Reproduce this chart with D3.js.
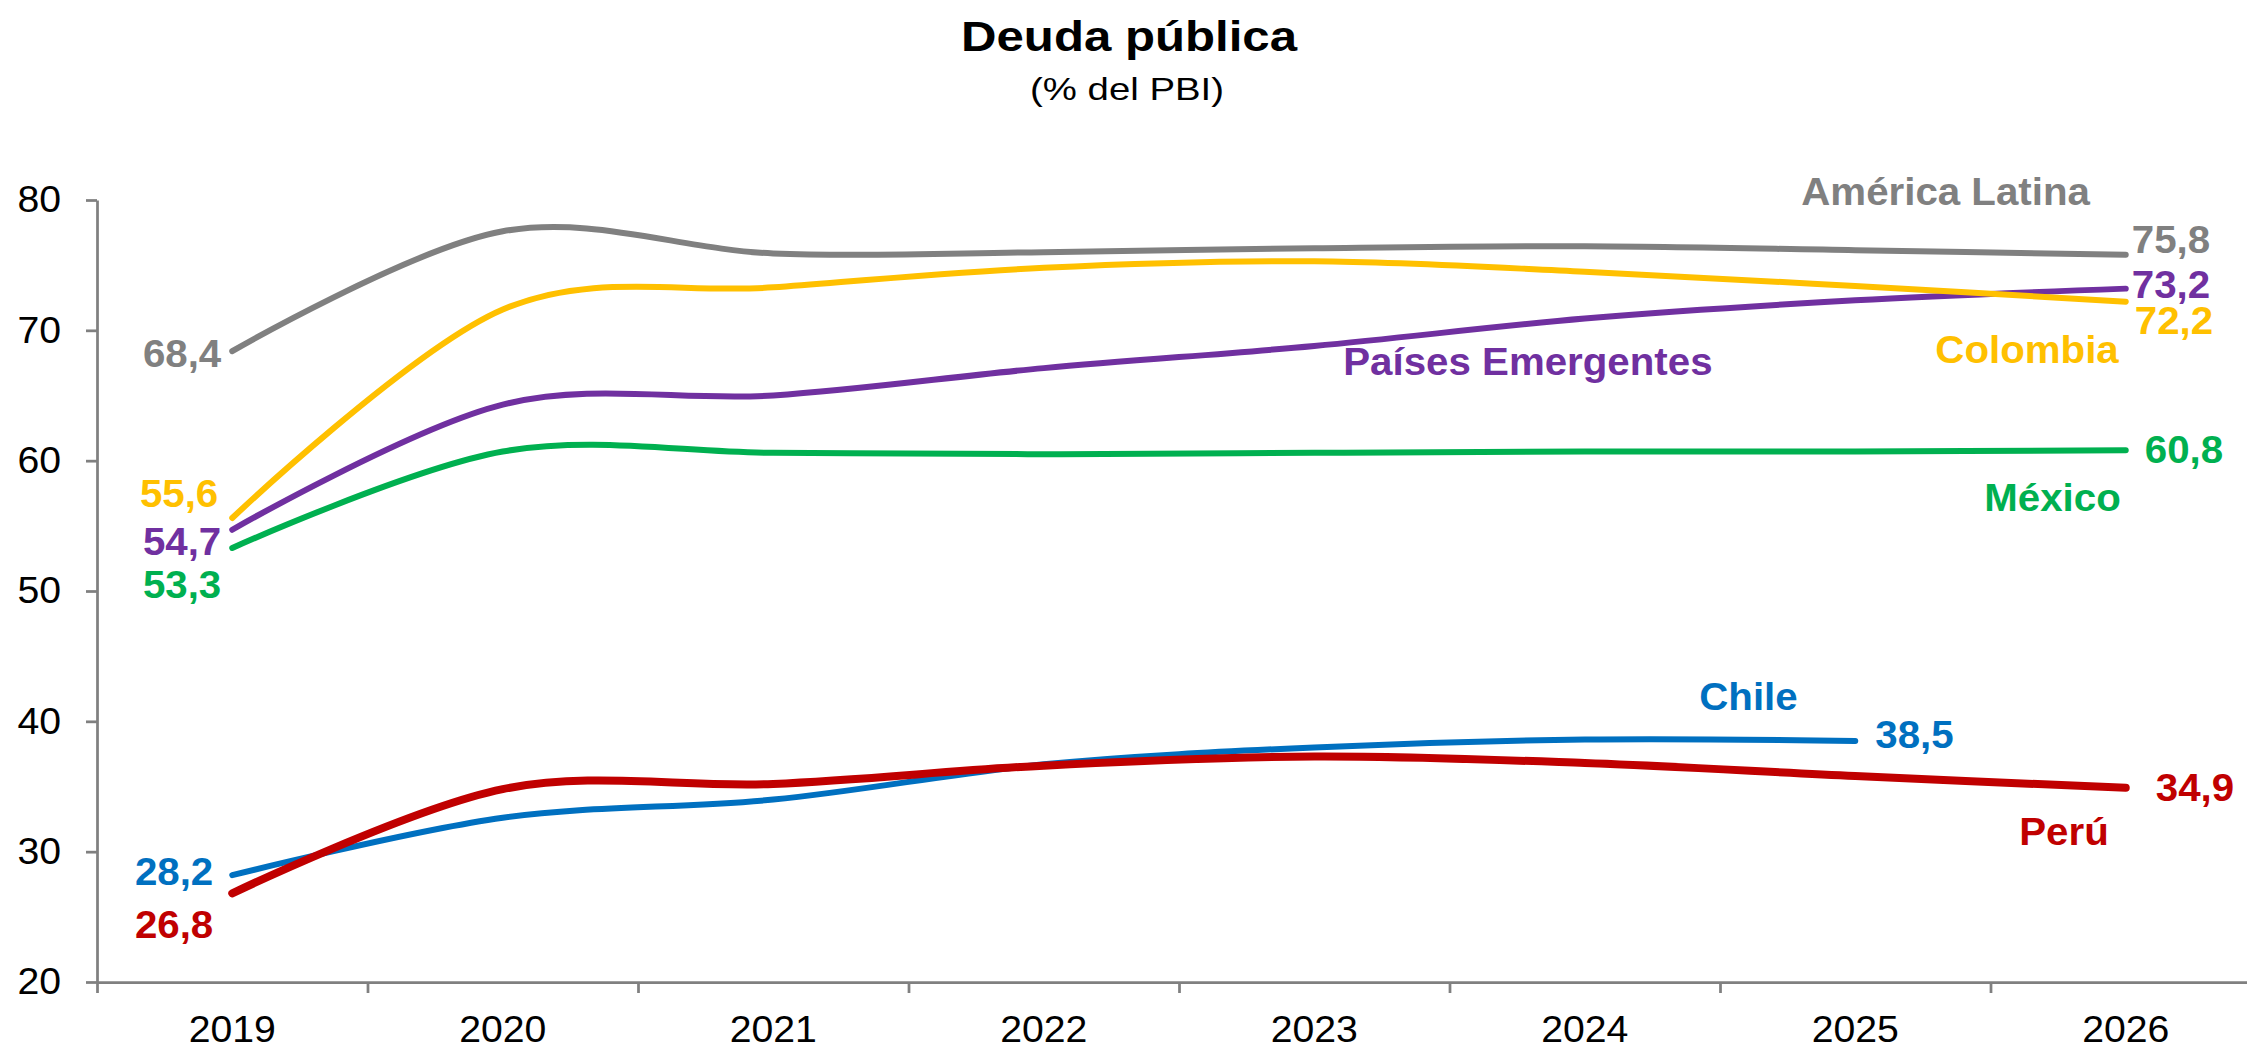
<!DOCTYPE html>
<html lang="es">
<head>
<meta charset="utf-8">
<title>Deuda pública</title>
<script src="https://cdn.jsdelivr.net/npm/d3@7"></script>
<style>
  html, body { margin: 0; padding: 0; background: #ffffff; }
  svg { display: block; font-family: "Liberation Sans", Arial, Helvetica, sans-serif; }
</style>
</head>
<body>
<svg id="chart" width="2247" height="1049"></svg>
<script>
// Años del eje horizontal
const years = ["2019", "2020", "2021", "2022", "2023", "2024", "2025", "2026"];

// Deuda pública, % del PBI
const americaLatina = [68.4, 77.6, 75.9, 76.0, 76.3, 76.45, 76.15, 75.8];
const colombia      = [55.6, 71.6, 73.3, 74.8, 75.3, 74.5, 73.4, 72.2];
const emergentes    = [54.7, 64.3, 65.0, 67.1, 68.8, 70.9, 72.3, 73.2];
const mexico        = [53.3, 60.7, 60.6, 60.5, 60.6, 60.7, 60.7, 60.8];
const chile         = [28.2, 32.6, 34.0, 36.7, 38.0, 38.6, 38.5, null];
const peru          = [26.8, 34.8, 35.2, 36.6, 37.3, 36.8, 35.8, 34.9];

// Marcas del eje vertical
const yTicks = [20, 30, 40, 50, 60, 70, 80];

// Series en orden de dibujo (la última queda encima)
const series = [
  { name: "Países Emergentes", values: emergentes,    color: "#7030A0", width: 6 },
  { name: "Colombia",          values: colombia,      color: "#FFC000", width: 6 },
  { name: "América Latina",    values: americaLatina, color: "#808080", width: 6 },
  { name: "México",            values: mexico,        color: "#00B050", width: 6 },
  { name: "Chile",             values: chile,         color: "#0070C0", width: 6 },
  { name: "Perú",              values: peru,          color: "#C00000", width: 8 }
];

// Desplazamientos (px) de las etiquetas de valor inicial y final
const firstLabelShift = {
  "América Latina": [-11, 16], "Colombia": [-14, -11], "Países Emergentes": [-11, 25],
  "México": [-11, 50], "Chile": [-19, 10], "Perú": [-19, 45]
};
const lastLabelShift = {
  "América Latina": [6, -2], "Colombia": [9, 32], "Países Emergentes": [6, 9],
  "México": [19, 13], "Chile": [20, 7], "Perú": [30, 13]
};
// Nombre de cada serie: año de referencia, anclaje y desplazamiento (px)
const nameLabel = {
  "América Latina":    { year: "2025", anchor: "start", dx: -54,  dy: -45 },
  "Colombia":          { year: "2026", anchor: "end",   dx: -7,   dy: 61 },
  "Países Emergentes": { year: "2023", anchor: "start", dx: 29,   dy: 29 },
  "México":            { year: "2026", anchor: "end",   dx: -5,   dy: 61 },
  "Chile":             { year: "2025", anchor: "start", dx: -156, dy: -31 },
  "Perú":              { year: "2026", anchor: "end",   dx: -17,  dy: 57 }
};

const svg = d3.select("#chart");
const axisColor = "#808080";
const labelSize = 38;
const tickSize = 37;
const textWiden = 1.06;   // ancho horizontal de los textos del gráfico

const plotLeft = 97, bandW = 270.5, plotTop = 200, plotBottom = 982;

const x = d3.scaleBand().domain(years).range([plotLeft, plotLeft + bandW * years.length]);
const xEdge = d3.scaleLinear().domain([0, years.length]).range([plotLeft, plotLeft + bandW * years.length]);
const y = d3.scaleLinear().domain([20, 80]).range([plotBottom, plotTop]);
const cx = yr => x(yr) + x.bandwidth() / 2;

const fmt = d3.formatLocale({ decimal: ",", thousands: ".", grouping: [3], currency: ["", ""] }).format(".1f");

// Ensancha horizontalmente un texto alrededor de su punto de anclaje
function widen(sel, factor) {
  sel.each(function () {
    const t = d3.select(this);
    const tx = +t.attr("x") || 0, ty = +t.attr("y") || 0;
    const sx = typeof factor === "function" ? factor(this) : factor;
    t.attr("x", 0).attr("y", 0)
     .attr("transform", `translate(${tx},${ty}) scale(${sx},1)`);
  });
}
const fitTo = w => node => w / node.getComputedTextLength();

// Título
const title = svg.append("text")
  .attr("x", 1129).attr("y", 51)
  .attr("text-anchor", "middle")
  .attr("font-size", 42).attr("font-weight", "bold").attr("fill", "#000")
  .text("Deuda pública");
widen(title, fitTo(336));

const subtitle = svg.append("text")
  .attr("x", 1127).attr("y", 100)
  .attr("text-anchor", "middle")
  .attr("font-size", 31).attr("fill", "#000")
  .text("(% del PBI)");
widen(subtitle, fitTo(194));

// Eje vertical
const yAxis = svg.append("g")
  .attr("transform", `translate(${plotLeft},0)`)
  .call(d3.axisLeft(y).tickValues(yTicks).tickSize(11).tickPadding(25).tickSizeOuter(0));
yAxis.select(".domain").attr("stroke", axisColor).attr("stroke-width", 2.75);
yAxis.selectAll(".tick line").attr("stroke", axisColor).attr("stroke-width", 2.75);
yAxis.selectAll(".tick text").attr("font-size", tickSize).attr("fill", "#000");

// Eje horizontal: marcas entre categorías
const xTicksAxis = svg.append("g")
  .attr("transform", `translate(0,${plotBottom})`)
  .call(d3.axisBottom(xEdge).tickValues(d3.range(years.length + 1)).tickSize(11).tickSizeOuter(0).tickFormat(""));
xTicksAxis.select(".domain").attr("stroke", axisColor).attr("stroke-width", 2.75);
xTicksAxis.selectAll(".tick line").attr("stroke", axisColor).attr("stroke-width", 2.75);

// Eje horizontal: años centrados
const xLabels = svg.append("g")
  .attr("transform", `translate(0,${plotBottom})`)
  .call(d3.axisBottom(x).tickSize(0).tickPadding(34));
xLabels.select(".domain").remove();
xLabels.selectAll(".tick text").attr("font-size", tickSize).attr("fill", "#000");

// Fuente de los ejes igual a la del resto del gráfico
svg.selectAll("g").attr("font-family", null);
widen(yAxis.selectAll(".tick text"), textWiden);
widen(xLabels.selectAll(".tick text"), textWiden);

// Líneas suavizadas
const line = d3.line()
  .x(d => cx(d.year))
  .y(d => y(d.v))
  .curve(d3.curveCardinal.tension(0));

const points = s => years.map((yr, i) => ({ year: yr, v: s.values[i] })).filter(d => d.v != null);

svg.append("g").selectAll("path")
  .data(series)
  .join("path")
  .attr("d", s => line(points(s)))
  .attr("fill", "none")
  .attr("stroke", s => s.color)
  .attr("stroke-width", s => s.width)
  .attr("stroke-linecap", "round")
  .attr("stroke-linejoin", "round");

// Etiquetas de valor y nombres
const labels = svg.append("g").attr("font-weight", "bold").attr("font-size", labelSize);

series.forEach(s => {
  const pts = points(s);
  const first = pts[0], last = pts[pts.length - 1];
  const [fdx, fdy] = firstLabelShift[s.name];
  const [ldx, ldy] = lastLabelShift[s.name];

  labels.append("text")
    .attr("x", cx(first.year) + fdx).attr("y", y(first.v) + fdy)
    .attr("text-anchor", "end").attr("fill", s.color)
    .text(fmt(first.v));

  labels.append("text")
    .attr("x", cx(last.year) + ldx).attr("y", y(last.v) + ldy)
    .attr("text-anchor", "start").attr("fill", s.color)
    .text(fmt(last.v));

  const n = nameLabel[s.name];
  const ref = s.values[years.indexOf(n.year)];
  labels.append("text")
    .attr("x", cx(n.year) + n.dx).attr("y", y(ref) + n.dy)
    .attr("text-anchor", n.anchor).attr("fill", s.color)
    .text(s.name);
});
widen(labels.selectAll("text"), textWiden);
</script>
</body>
</html>
